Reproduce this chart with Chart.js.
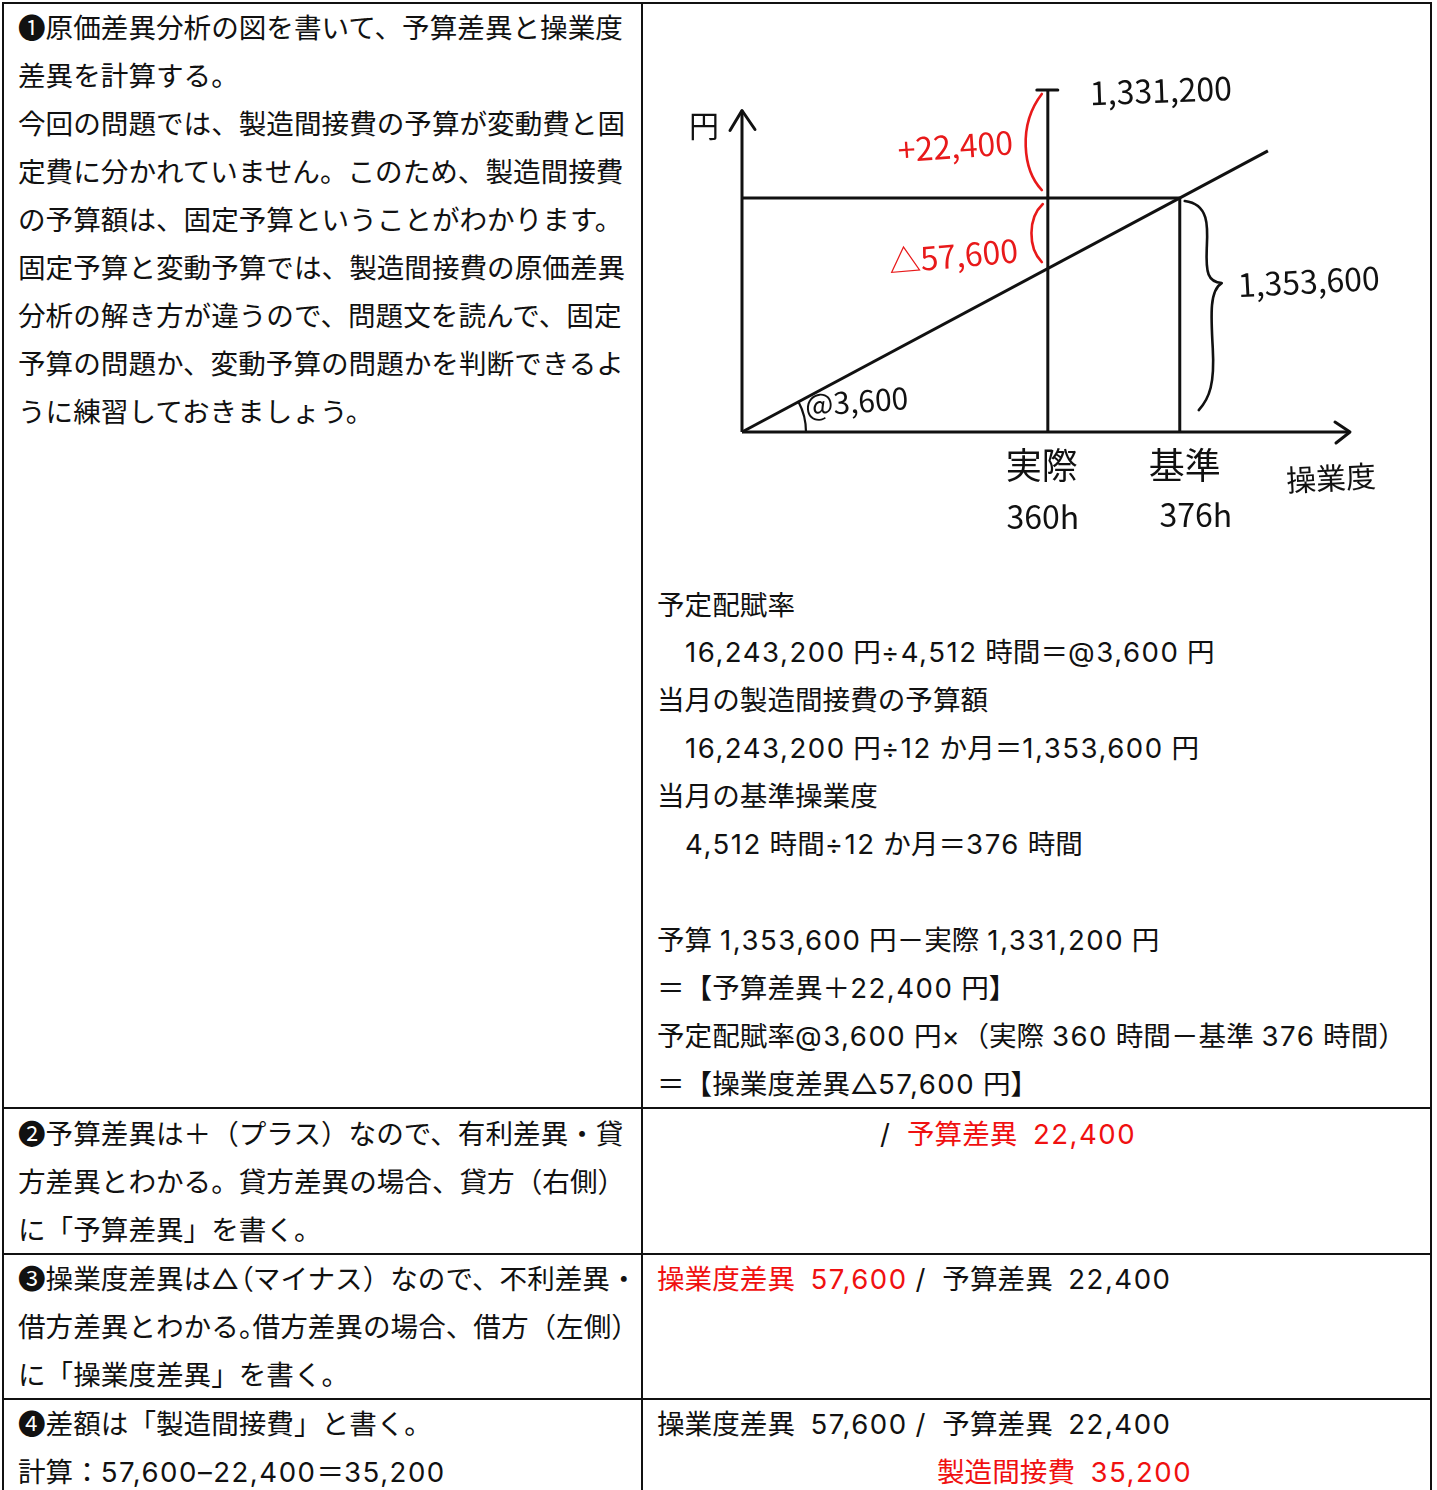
<!DOCTYPE html>
<html lang="ja">
<head>
<meta charset="utf-8">
<script src="https://cdn.jsdelivr.net/npm/chart.js@4/dist/chart.umd.min.js"></script>
<style>
  html, body { margin: 0; padding: 0; background: #fff; }
  #page { position: relative; width: 1437px; height: 1490px; overflow: hidden; background: #fff;
    font-family: "Inter", "Noto Sans CJK JP", "Noto Sans", sans-serif; font-size: 27.6px; color: #111; }
  .ln { position: absolute; height: 48px; line-height: 48px; white-space: nowrap; }
  .last { height: 36px; line-height: 36px; }
  .hb { position: absolute; height: 2px; background: #111; }
  .vb { position: absolute; width: 2px; background: #111; }
  .red { color: #f01010; }
  .p { font-feature-settings: 'palt'; }
  .n { letter-spacing: 1.5px; }
  #diagWrap { position: absolute; left: 650px; top: 60px; width: 780px; height: 500px; }
</style>
</head>
<body>
<div id="page">
  <!-- table borders -->
  <div class="hb" style="left:2px; top:2px; width:1430px;"></div>
  <div class="hb" style="left:2px; top:1107px; width:1430px;"></div>
  <div class="hb" style="left:2px; top:1253px; width:1430px;"></div>
  <div class="hb" style="left:2px; top:1398px; width:1430px;"></div>
  <div class="vb" style="left:2px; top:2px; height:1488px;"></div>
  <div class="vb" style="left:641px; top:2px; height:1488px;"></div>
  <div class="vb" style="left:1430px; top:2px; height:1488px;"></div>

  <!-- row 1 left -->
  <div class="ln" style="left:18px; top:4px;">❶原価差異分析の図を書いて、予算差異と操業度</div>
  <div class="ln" style="left:18px; top:52px;">差異を計算する。</div>
  <div class="ln" style="left:18px; top:100px;">今回の問題では、製造間接費の予算が変動費と固</div>
  <div class="ln" style="left:18px; top:148px;">定費に分かれていません。このため、製造間接費</div>
  <div class="ln" style="left:18px; top:196px;">の予算額は、固定予算ということがわかります。</div>
  <div class="ln" style="left:18px; top:244px;">固定予算と変動予算では、製造間接費の原価差異</div>
  <div class="ln" style="left:18px; top:292px;">分析の解き方が違うので、問題文を読んで、固定</div>
  <div class="ln" style="left:18px; top:340px;">予算の問題か、変動予算の問題かを判断できるよ</div>
  <div class="ln" style="left:18px; top:388px;">うに練習しておきましょう。</div>

  <!-- row 1 right -->
  <div id="diagWrap"><canvas id="diagram" width="780" height="500"></canvas></div>
  <div class="ln" style="left:657px; top:581px;">予定配賦率</div>
  <div class="ln" style="left:685px; top:628px;">16,243,200 円÷4,512 時間＝@3,600 円</div>
  <div class="ln" style="left:657px; top:676px;">当月の製造間接費の予算額</div>
  <div class="ln" style="left:685px; top:724px;">16,243,200 円÷12 か月＝1,353,600 円</div>
  <div class="ln" style="left:657px; top:772px;">当月の基準操業度</div>
  <div class="ln" style="left:685px; top:820px;">4,512 時間÷12 か月＝376 時間</div>
  <div class="ln" style="left:657px; top:916px;">予算 1,353,600 円－実際 1,331,200 円</div>
  <div class="ln" style="left:657px; top:964px;">＝【予算差異＋22,400 円】</div>
  <div class="ln" style="left:657px; top:1012px;">予定配賦率@3,600 円×（実際 360 時間－基準 376 時間）</div>
  <div class="ln" style="left:657px; top:1060px;">＝【操業度差異△57,600 円】</div>

  <!-- row 2 -->
  <div class="ln" style="left:18px; top:1110px;">❷予算差異は＋（プラス）なので、有利差異・貸</div>
  <div class="ln" style="left:18px; top:1158px;">方差異とわかる。貸方差異の場合、貸方（右側）</div>
  <div class="ln" style="left:18px; top:1206px;">に「予算差異」を書く。</div>
  <div class="ln" style="left:880px; top:1110px;">/&nbsp; <span class="red">予算差異&nbsp; 22,400</span></div>

  <!-- row 3 -->
  <div class="ln" style="left:18px; top:1255px;">❸操業度差異は△<span class="p">（</span>マイナス）なので、不利差異・</div>
  <div class="ln" style="left:18px; top:1303px;">借方差異とわかる<span class="p">。</span>借方差異の場合、借方（左側）</div>
  <div class="ln" style="left:18px; top:1351px;">に「操業度差異」を書く。</div>
  <div class="ln" style="left:657px; top:1255px;"><span class="red">操業度差異&nbsp; 57,600</span> /&nbsp; 予算差異&nbsp; 22,400</div>

  <!-- row 4 -->
  <div class="ln" style="left:18px; top:1400px;">❹差額は「製造間接費」と書く。</div>
  <div class="ln last" style="left:18px; top:1454px;">計算：57,600–22,400＝35,200</div>
  <div class="ln" style="left:657px; top:1400px;">操業度差異&nbsp; 57,600 /&nbsp; 予算差異&nbsp; 22,400</div>
  <div class="ln last red" style="left:937px; top:1454px;">製造間接費&nbsp; 35,200</div>
</div>

<script>
// widen Latin/number runs slightly (reference uses a wider Latin face)
(function () {
  const walker = document.createTreeWalker(document.getElementById('page'), NodeFilter.SHOW_TEXT);
  const nodes = [];
  while (walker.nextNode()) nodes.push(walker.currentNode);
  const re = /[0-9A-Za-z,.@÷×–\/]+/g;
  nodes.forEach(node => {
    const s = node.nodeValue;
    if (!re.test(s)) return;
    re.lastIndex = 0;
    const frag = document.createDocumentFragment();
    let last = 0, m;
    while ((m = re.exec(s)) !== null) {
      if (m.index > last) frag.appendChild(document.createTextNode(s.slice(last, m.index)));
      const sp = document.createElement('span');
      sp.className = 'n';
      sp.textContent = m[0];
      frag.appendChild(sp);
      last = m.index + m[0].length;
    }
    if (last < s.length) frag.appendChild(document.createTextNode(s.slice(last)));
    node.parentNode.replaceChild(frag, node);
  });
})();

// ---- values shown in the diagram ----
const hourLabels   = ['実際', '基準'];
const hourValues   = [360, 376];            // h
const actualCost   = 1331200;               // 実際発生額
const budgetAmount = 1353600;               // 予算額
const rate         = 3600;                  // 予定配賦率
const budgetVar    = 22400;                 // 予算差異 (+)
const volumeVar    = 57600;                 // 操業度差異 (△)
const xAxisTitle   = '操業度';
const yAxisTitle   = '円';

// schematic (not-to-scale) diagram positions, axis runs 0..100
const hourPositions   = [50.3, 72];         // 実際, 基準 on the x axis
const budgetLevel     = 68.4;               // height of the budget line
const actualTop       = 100;                // top of the 実際 line (実際発生額)
const yAxisTop        = 94;                 // top of the y axis arrow
const rateLineEnd     = [86.5, 82.2];       // end of the @3,600 line
const xAxisEnd        = 100;

const fmt = n => n.toLocaleString('en-US');

const lineStyle = { borderColor: '#111', borderWidth: 3, showLine: true, pointRadius: 0, fill: false, clip: false, tension: 0 };

const datasets = [
  { ...lineStyle, label: 'yAxis', data: [{x: 0, y: 0}, {x: 0, y: yAxisTop}] },
  { ...lineStyle, label: 'xAxis', data: [{x: 0, y: 0}, {x: xAxisEnd, y: 0}] },
  { ...lineStyle, label: 'budget', data: [{x: 0, y: budgetLevel}, {x: hourPositions[1], y: budgetLevel}] },
  { ...lineStyle, label: 'actual', data: [{x: hourPositions[0], y: 0}, {x: hourPositions[0], y: actualTop}] },
  { ...lineStyle, label: 'standard', data: [{x: hourPositions[1], y: 0}, {x: hourPositions[1], y: budgetLevel}] },
  { ...lineStyle, label: 'rate', data: [{x: 0, y: 0}, {x: rateLineEnd[0], y: rateLineEnd[1]}] }
];

const HAND = '"Noto Sans CJK JP", "Noto Sans", sans-serif';

const diagramPlugin = {
  id: 'diagramDecor',
  afterDatasetsDraw(chart) {
    const { ctx, scales: { x, y } } = chart;
    const px = v => x.getPixelForValue(v), py = v => y.getPixelForValue(v);
    const ox = px(0), oy = py(0);
    const ax = px(hourPositions[0]), sx = px(hourPositions[1]);
    const by = py(budgetLevel), ty = py(actualTop), yt = py(yAxisTop), xe = px(xAxisEnd);

    ctx.save();
    ctx.strokeStyle = '#111'; ctx.lineWidth = 3; ctx.lineCap = 'round'; ctx.lineJoin = 'round';
    // y arrow head
    ctx.beginPath(); ctx.moveTo(ox - 12, yt + 20); ctx.lineTo(ox, yt); ctx.lineTo(ox + 13, yt + 19); ctx.stroke();
    // x arrow head
    ctx.beginPath(); ctx.moveTo(xe - 15, oy - 10); ctx.lineTo(xe, oy); ctx.lineTo(xe - 14, oy + 11); ctx.stroke();
    // T cap on the actual line
    ctx.beginPath(); ctx.moveTo(ax - 11, ty); ctx.lineTo(ax + 10, ty); ctx.stroke();
    // angle arc at origin
    const ang = Math.atan2(oy - by, sx - ox);
    ctx.lineWidth = 2.2;
    ctx.beginPath(); ctx.arc(ox, oy, 64, -ang, 0); ctx.stroke();
    // brace beside the standard line
    ctx.lineWidth = 2.6;
    ctx.beginPath();
    ctx.moveTo(sx + 5, by + 3);
    ctx.bezierCurveTo(sx + 30, by + 6, sx + 28, by + 30, sx + 27, by + 50);
    ctx.bezierCurveTo(sx + 26, by + 75, sx + 28, by + 84, sx + 42, by + 85);
    ctx.bezierCurveTo(sx + 30, by + 92, sx + 31, by + 115, sx + 33, by + 150);
    ctx.bezierCurveTo(sx + 35, by + 185, sx + 30, by + 200, sx + 19, by + 212);
    ctx.stroke();
    // red brackets beside the actual line
    ctx.strokeStyle = '#e8191a'; ctx.lineWidth = 2.6;
    ctx.beginPath();
    ctx.moveTo(ax - 6, ty + 4);
    ctx.bezierCurveTo(ax - 30, ty + 35, ax - 25, ty + 80, ax - 6, by - 8);
    ctx.stroke();
    ctx.beginPath();
    ctx.moveTo(ax - 5, by + 6);
    ctx.bezierCurveTo(ax - 20, by + 20, ax - 20, by + 50, ax - 6, by + 64);
    ctx.stroke();

    // texts
    const text = (s, tx, tyy, size, color, align, rot) => {
      ctx.save();
      ctx.translate(tx, tyy);
      ctx.rotate((rot || 0) * Math.PI / 180);
      ctx.font = size + 'px ' + HAND;
      ctx.fillStyle = color;
      ctx.textAlign = align || 'left';
      ctx.textBaseline = 'middle';
      ctx.fillText(s, 0, 0);
      ctx.restore();
    };
    const black = '#111', red = '#e8191a';
    text(yAxisTitle, ox - 38, yt + 15, 30, black, 'center', 0);
    text(fmt(actualCost), ax + 42, ty + 3, 32, black, 'left', -2);
    text('+' + fmt(budgetVar), ax - 35, (ty + by) / 2 - 2, 32, red, 'right', -4);
    text('△' + fmt(volumeVar), ax - 30, by + 52, 32, red, 'right', -5);
    text(fmt(budgetAmount), sx + 58, by + 87, 32, black, 'left', -3);
    text('@' + fmt(rate), ox + 63, oy - 27, 30, black, 'left', -4);
    text(hourLabels[0], ax - 6, oy + 33, 36, black, 'center', 0);
    text(hourValues[0] + 'h', ax - 5, oy + 85, 32, black, 'center', 0);
    text(hourLabels[1], sx + 5, oy + 33, 36, black, 'center', 0);
    text(hourValues[1] + 'h', sx + 16, oy + 83, 32, black, 'center', 0);
    text(xAxisTitle, xe - 19, oy + 46, 30, black, 'center', -3);
    ctx.restore();
  }
};

new Chart(document.getElementById('diagram'), {
  type: 'scatter',
  data: { datasets },
  options: {
    responsive: false,
    animation: false,
    devicePixelRatio: 1,
    layout: { padding: { left: 92, right: 80, top: 30, bottom: 128 } },
    plugins: { legend: { display: false }, tooltip: { enabled: false } },
    scales: {
      x: { type: 'linear', min: 0, max: 100, display: false },
      y: { type: 'linear', min: 0, max: 100, display: false }
    }
  },
  plugins: [diagramPlugin]
});
</script>
</body>
</html>
